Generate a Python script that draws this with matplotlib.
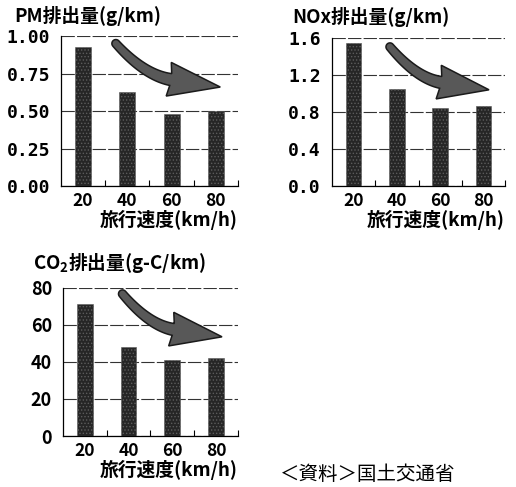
import numpy as np
import matplotlib
matplotlib.use('Agg')
import matplotlib.pyplot as plt
from matplotlib.patches import Polygon
from matplotlib.ticker import FixedLocator

plt.rcParams['font.family'] = ['Noto Sans CJK JP', 'DejaVu Sans']
plt.rcParams['mathtext.default'] = 'regular'
plt.rcParams['hatch.linewidth'] = 0.6

speed = [20, 40, 60, 80]
pm = [0.93, 0.63, 0.48, 0.50]
nox = [1.55, 1.05, 0.84, 0.87]
co2 = [71.5, 48, 41, 42]

pm_ticks = [0.0, 0.25, 0.5, 0.75, 1.0]
nox_ticks = [0.0, 0.4, 0.8, 1.2, 1.6]
co2_ticks = [0, 20, 40, 60, 80]

xlabel = '旅行速度(km/h)'
source = '＜資料＞国土交通省'

fig = plt.figure(figsize=(5.16, 4.87), dpi=100)


def trend_arrow(ax, dx=0.0, dy=0.0, body=(4.0, 6.0), head_half=17.0):
    # curved block arrow built in pixel units, then mapped to axes fractions
    w, h = ax.bbox.width, ax.bbox.height
    sc = np.array([w, h])
    shape = [(0.31, 0.95), (0.47, 0.74), (0.62, 0.71), (0.90, 0.66)]
    p0, c, p1, pt = (np.array([sx + dx * (1 - i / 3), sy + dy]) * sc
                     for i, (sx, sy) in enumerate(shape))
    pt = pt + np.array([dx * 0.3 * w, 0])
    t = np.linspace(0, 1, 50)[:, None]
    pts = (1 - t) ** 2 * p0 + 2 * (1 - t) * t * c + t ** 2 * p1
    d = 2 * (1 - t) * (c - p0) + 2 * t * (p1 - c)
    d = d / np.linalg.norm(d, axis=1, keepdims=True)
    n = np.column_stack([-d[:, 1], d[:, 0]])
    half = np.linspace(body[0], body[1], len(t))[:, None]
    left = pts + n * half
    right = pts - n * half
    u = (pt - p1) / np.linalg.norm(pt - p1)
    nh = np.array([-u[1], u[0]])
    head = [p1 + nh * head_half - u * 2, pt, p1 - nh * head_half - u * 2]
    th = np.linspace(0, np.pi, 12)[:, None]
    cap = p0 + body[0] * (-n[0] * np.cos(th) - d[0] * np.sin(th))
    poly = np.vstack([left, head, right[::-1], cap]) / sc
    ax.add_patch(Polygon(poly, closed=True, transform=ax.transAxes,
                         facecolor='#585858', edgecolor='#1a1a1a',
                         linewidth=1.1, zorder=4, clip_on=False))


def panel(rect, vals, ticks, fmt, mono, shift):
    ax = fig.add_axes(rect)
    x = np.arange(len(vals))
    ax.bar(x, vals, width=0.36, color='#262626', edgecolor='#5c5c5c',
           hatch='.....', linewidth=0.4, zorder=3)
    ax.set_xlim(-0.5, len(vals) - 0.5)
    ax.set_ylim(ticks[0], ticks[-1])
    ax.set_yticks(ticks)
    ax.set_yticklabels([fmt.format(t) for t in ticks])
    ax.set_xticks(x)
    ax.set_xticklabels([str(s) for s in speed])
    ax.xaxis.set_minor_locator(FixedLocator(list(x + 0.5)))
    ax.tick_params(axis='x', which='minor', direction='in', length=4, width=0.8)
    ax.tick_params(axis='x', which='major', length=0, pad=4, labelsize=12.5)
    ax.tick_params(axis='y', length=0, pad=8, labelsize=13)
    for lab in ax.get_yticklabels():
        if mono:
            lab.set_family('DejaVu Sans Mono')
        lab.set_fontweight('bold')
    for lab in ax.get_xticklabels():
        lab.set_fontweight('bold')
    ax.yaxis.grid(True, color='#333333', linestyle=(0, (12, 2)), linewidth=0.8, zorder=1)
    ax.spines['top'].set_visible(False)
    ax.spines['right'].set_visible(False)
    ax.spines['left'].set_linewidth(0.9)
    ax.spines['bottom'].set_linewidth(0.9)
    ax.set_xlabel(xlabel, loc='right', fontsize=13.5, fontweight='bold', labelpad=0)
    trend_arrow(ax, *shift)
    return ax


ax1 = panel([0.1182, 0.618, 0.343, 0.308], pm, pm_ticks, '{:.2f}', True, (0.0, 0.0))
ax2 = panel([0.6434, 0.618, 0.3353, 0.304], nox, nox_ticks, '{:.1f}', True, (0.025, -0.01))
ax3 = panel([0.1221, 0.1047, 0.339, 0.304], co2, co2_ticks, '{:d}', False, (0.03, 0.01))

fig.text(14 / 516, 1 - 16 / 487, 'PM排出量(g/km)', fontsize=13.5, fontweight='bold', va='center', ha='left')
fig.text(292 / 516, 1 - 17 / 487, 'NOx排出量(g/km)', fontsize=13.5, fontweight='bold', va='center', ha='left')
fig.text(33 / 516, 1 - 263 / 487, 'CO$_2$排出量(g-C/km)', fontsize=13.5, fontweight='bold', va='center', ha='left')
fig.text(280 / 516, 1 - 475 / 487, source, fontsize=14, va='center', ha='left')

fig.savefig('out.png', dpi=100)
